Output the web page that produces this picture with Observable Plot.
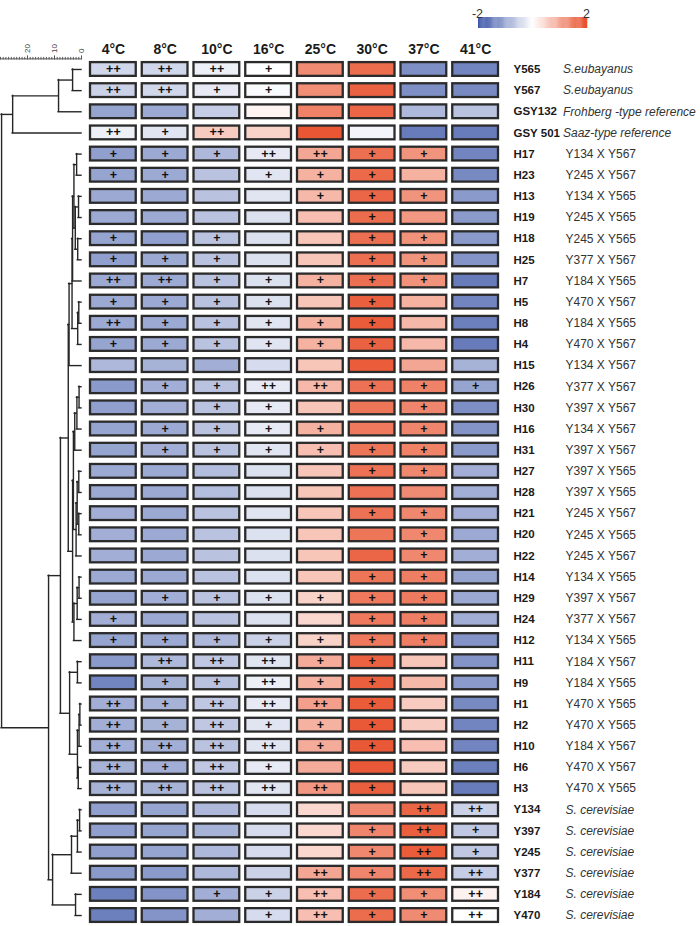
<!DOCTYPE html>
<html><head><meta charset="utf-8">
<script src="https://cdn.jsdelivr.net/npm/d3@7"></script>
<script src="https://cdn.jsdelivr.net/npm/@observablehq/plot@0.6"></script>
<style>
body{margin:0;background:#fff;}
#wrap{position:relative;width:700px;height:926px;font-family:"Liberation Sans",Arial,sans-serif;}
#wrap > div{position:absolute;}
</style></head><body>
<div id="wrap"><div id="heat" style="left:0;top:0"></div><div id="dendro" style="left:0;top:0"></div><div id="legend" style="left:470px;top:0"></div></div>
<script>
const temps = ["4°C","8°C","10°C","16°C","25°C","30°C","37°C","41°C"];
const strains = ["Y565","Y567","GSY132","GSY 501","H17","H23","H13","H19","H18","H25","H7","H5","H8","H4","H15","H26","H30","H16","H31","H27","H28","H21","H20","H22","H14","H29","H24","H12","H11","H9","H1","H2","H10","H6","H3","Y134","Y397","Y245","Y377","Y184","Y470"];
const descr = ["S.eubayanus","S.eubayanus","Frohberg -type reference","Saaz-type reference","Y134 X Y567","Y245 X Y567","Y134 X Y565","Y245 X Y565","Y245 X Y565","Y377 X Y567","Y184 X Y565","Y470 X Y567","Y184 X Y565","Y470 X Y567","Y134 X Y567","Y377 X Y567","Y397 X Y567","Y134 X Y567","Y397 X Y567","Y397 X Y565","Y397 X Y565","Y245 X Y567","Y245 X Y565","Y245 X Y567","Y134 X Y565","Y397 X Y567","Y377 X Y567","Y134 X Y565","Y184 X Y567","Y184 X Y565","Y470 X Y565","Y470 X Y565","Y184 X Y567","Y470 X Y567","Y470 X Y565","S. cerevisiae","S. cerevisiae","S. cerevisiae","S. cerevisiae","S. cerevisiae","S. cerevisiae"];
const descrKind = ["ref","ref","ref","ref", ...Array(31).fill("hyb"), ...Array(6).fill("cer")];

// z-scores per temperature (one value per strain, in row order)
const v4  = [-0.47,-0.53,-1.06,-0.18, -1.12,-1.06,-1.0,-1.0,-1.06,-1.12,-1.0,-1.0,-1.0,-1.06, -0.83,-1.18,-1.12,-1.06,-1.06,-1.0,-1.0,-0.94,-0.94,-0.94,-1.0,-1.06,-0.94,-1.06, -1.18,-1.42,-0.94,-0.94,-0.94,-0.89,-0.89, -1.12,-1.12,-1.12,-1.18,-1.48,-1.48];
const v8  = [-0.47,-0.47,-1.0,-0.3, -1.0,-1.0,-1.0,-1.0,-1.12,-1.0,-1.0,-1.0,-1.0,-1.0, -0.89,-0.94,-0.94,-1.0,-0.94,-1.0,-1.0,-1.0,-1.0,-1.0,-1.0,-0.94,-1.0,-1.0, -0.83,-0.89,-0.89,-0.89,-0.94,-0.94,-0.89, -1.06,-1.06,-1.06,-1.18,-1.24,-1.24];
const v10 = [-0.18,-0.24,-0.59,0.58, -0.83,-0.71,-0.71,-0.71,-0.71,-0.71,-0.71,-0.71,-0.71,-0.71, -0.94,-0.71,-0.71,-0.71,-0.71,-0.77,-0.77,-0.71,-0.71,-0.71,-0.71,-0.71,-0.71,-0.83, -0.65,-0.71,-0.65,-0.65,-0.71,-0.65,-0.71, -0.83,-0.89,-0.83,-0.83,-0.94,-0.94];
const v16 = [0,-0.06,0.12,0.51, -0.24,-0.3,-0.3,-0.35,-0.35,-0.35,-0.35,-0.35,-0.3,-0.3, -0.41,-0.24,-0.24,-0.24,-0.3,-0.35,-0.35,-0.3,-0.35,-0.35,-0.35,-0.35,-0.35,-0.53, -0.3,-0.18,-0.24,-0.3,-0.3,-0.24,-0.3, -0.41,-0.41,-0.41,-0.53,-0.53,-0.41];
const v25 = [1.3,1.27,1.41,1.9, 1.0,0.87,0.8,0.73,0.65,0.65,0.87,0.65,0.87,0.87, 0.65,0.8,0.65,0.87,0.73,0.65,0.65,0.65,0.65,0.65,0.65,0.51,0.44,0.51, 0.94,0.87,1.08,0.87,0.94,0.94,1.16, 0.44,0.44,0.44,1.0,0.73,0.73];
const v30 = [1.65,1.76,1.72,-0.12, 1.62,1.69,1.72,1.65,1.62,1.62,1.62,1.79,1.83,1.76, 1.83,1.58,1.55,1.51,1.55,1.58,1.58,1.58,1.55,1.72,1.55,1.51,1.51,1.51, 1.76,1.79,1.83,1.86,1.86,1.86,1.79, 1.34,1.37,1.34,1.37,1.65,1.65];
const v37 = [-1.3,-1.3,-0.83,-1.53, 1.2,0.87,1.2,1.16,1.23,1.2,1.23,0.87,0.8,0.8, 1.0,1.41,1.37,1.37,1.41,1.34,1.3,1.34,1.34,1.34,1.44,1.48,1.44,1.44, 0.65,0.8,0.58,0.58,0.73,0.58,0.65, 1.72,1.79,1.83,1.69,1.27,1.3];
const v41 = [-1.42,-1.36,-0.71,-1.53, -1.42,-1.36,-1.18,-1.18,-1.18,-1.24,-1.53,-1.42,-1.48,-1.53, -0.89,-1.06,-1.3,-1.24,-1.18,-0.94,-0.94,-0.94,-1.0,-0.94,-1.06,-1.0,-0.94,-1.24, -1.24,-1.18,-1.36,-1.42,-1.42,-1.48,-1.53, -0.53,-0.65,-0.65,-0.59,0.15,0.0];

// significance marks: 0 none, 1 "+", 2 "++"
const m4  = [2,2,0,2, 1,1,0,0,1,1,2,1,2,1, 0,0,0,0,0,0,0,0,0,0,0,0,1,1, 0,0,2,2,2,2,2, 0,0,0,0,0,0];
const m8  = [2,2,0,1, 1,1,0,0,0,1,2,1,1,1, 0,1,0,1,1,0,0,0,0,0,0,1,0,1, 2,1,1,1,2,1,2, 0,0,0,0,0,0];
const m10 = [2,1,0,2, 1,0,0,0,1,1,1,1,1,1, 0,1,1,1,1,0,0,0,0,0,0,1,0,1, 2,1,2,2,2,2,2, 0,0,0,0,1,0];
const m16 = [1,1,0,0, 2,1,0,0,0,0,1,1,1,1, 0,2,1,1,1,0,0,0,0,0,0,1,0,1, 2,2,2,1,2,1,2, 0,0,0,0,1,1];
const m25 = [0,0,0,0, 2,1,1,0,0,0,1,0,1,1, 0,2,0,1,1,0,0,0,0,0,0,1,0,1, 1,1,2,1,1,0,2, 0,0,0,2,2,2];
const m30 = [0,0,0,0, 1,1,1,1,1,1,1,1,1,1, 0,1,0,0,1,1,0,1,0,0,1,1,1,1, 1,1,1,1,1,0,1, 0,1,1,1,1,1];
const m37 = [0,0,0,0, 1,0,1,0,1,1,1,0,0,0, 0,1,1,1,1,1,0,1,1,1,1,1,1,1, 0,0,0,0,0,0,0, 2,2,2,2,1,1];
const m41 = [0,0,0,0, 0,0,0,0,0,0,0,0,0,0, 0,1,0,0,0,0,0,0,0,0,0,0,0,0, 0,0,0,0,0,0,0, 2,1,1,2,2,2];

// dendrogram merges: [node, childA, childB, height]
const merges = [
 ["t1","Y565","Y567",3.3],["t2","t1","GSY132",8.5],["t3","t2","GSY 501",25.5],
 ["h1","H17","H23",1.8],["h2","H13","H19",1.1],["h3","H18","H25",1.4],["h4","h2","h3",2.3],
 ["h5","h1","h4",2.8],["h6","h5","H7",3.3],["h7","H5","H8",1.0],["h8","h7","H4",1.4],
 ["h9","h6","h8",3.5],["a1","h9","H15",4.6],
 ["g1","H26","H30",0.9],["g2","g1","H16",1.7],["g3","g2","H31",2.5],["g4","H27","H28",1.0],
 ["g5","H21","H20",1.0],["g6","g4","g5",1.6],["g7","g6","H22",2.0],["g8","g3","g7",3.0],
 ["g9","H14","H29",0.9],["g10","g9","H24",1.6],["g11","g10","H12",2.8],["a2","g8","g11",3.3],
 ["A","a1","a2",4.9],
 ["b1","H11","H9",1.5],["b2","H1","H2",0.6],["b3","b2","H10",0.9],["b4","H6","H3",1.2],["b5","b3","b4",1.5],
 ["B","b1","b5",4.4],["U","A","B",7.8],
 ["y1","Y134","Y397",0.7],["y2","y1","Y245",1.5],["y3","y2","Y377",3.7],["y5","Y184","Y470",2.2],["y4","y3","y5",10.7],
 ["M","U","y4",12.2],["root","t3","M",29.6]
];
const rulerLabels = [0,10,20];
const legendLabels = [-2,2];

const FONT = '"Liberation Sans", Arial, Helvetica, sans-serif';
const W = 700, H = 926;
const MT = 58.4, MB = 0.4;
const colorScale = {type:"linear", domain:[-2,0,2], range:["#3953a6","#ffffff","#e84d28"], clamp:true};

const vals = [v4,v8,v10,v16,v25,v30,v37,v41];
const sig = [m4,m8,m10,m16,m25,m30,m37,m41];
const cells = [];
strains.forEach((s,i)=>temps.forEach((t,j)=>cells.push({strain:s,temp:t,value:vals[j][i],mark:["","+","++"][sig[j][i]]})));
const rows = strains.map((s,i)=>({strain:s, descr:descr[i], kind:descrKind[i]}));

const heat = Plot.plot({
  width: W, height: H,
  marginLeft: 87, marginRight: 199, marginTop: MT, marginBottom: MB,
  style: {fontFamily: FONT, background: "transparent", overflow: "visible"},
  x: {type:"band", domain: temps, padding: 0, round: false, axis: null},
  y: {type:"band", domain: strains, padding: 0, round: false, axis: null},
  color: colorScale,
  marks: [
    Plot.cell(cells, {x:"temp", y:"strain", fill:"value", stroke:"#2b2b2b", strokeWidth:2.3,
      insetLeft:3, insetRight:3, insetTop:3.7, insetBottom:3.7}),
    Plot.text(cells.filter(d=>d.mark), {x:"temp", y:"strain", text:"mark", fontWeight:"bold", fontSize:12.5, fill:"#111", dy:-0.5}),
    Plot.text(temps, {x:d=>d, frameAnchor:"top", dy:-9.5, lineAnchor:"middle", fontWeight:"bold", fontSize:14, fill:"#1a1a1a"}),
    Plot.text(rows, {y:"strain", text:"strain", frameAnchor:"right", textAnchor:"start", dx:12, fontWeight:"bold", fontSize:11.5, fill:"#1a1a1a"}),
    Plot.text(rows.filter(d=>d.kind==="ref"), {y:"strain", text:"descr", frameAnchor:"right", textAnchor:"start", dx:61.5, fontStyle:"italic", fontSize:12, fill:"#333"}),
    Plot.text(rows.filter(d=>d.kind==="hyb"), {y:"strain", text:"descr", frameAnchor:"right", textAnchor:"start", dx:64, fontSize:12, fill:"#333"}),
    Plot.text(rows.filter(d=>d.kind==="cer"), {y:"strain", text:"descr", frameAnchor:"right", textAnchor:"start", dx:64, fontStyle:"italic", fontSize:12, fill:"#333"})
  ]
});
document.getElementById("heat").appendChild(heat);

// dendrogram layout from merges
const pos = new Map(strains.map((s,i)=>[s,{y:i,h:0}]));
const vSegs = [], hSegs = [];
for (const [id,a,b,h] of merges) {
  const A = pos.get(a), B = pos.get(b);
  vSegs.push({x:h, y1:A.y, y2:B.y});
  hSegs.push({y:A.y, x1:A.h, x2:h}, {y:B.y, x1:B.h, x2:h});
  pos.set(id, {y:(A.y+B.y)/2, h});
}
const dendro = Plot.plot({
  width: 90, height: H,
  marginLeft: 0, marginRight: 9, marginTop: MT, marginBottom: MB,
  style: {fontFamily: FONT, background: "transparent", overflow: "visible"},
  x: {domain:[30,0], range:[0,81], axis: null},
  y: {domain:[-0.5, strains.length-0.5], range:[MT, H-MB], axis: null},
  marks: [
    Plot.ruleY(hSegs, {y:"y", x1:"x1", x2:"x2", stroke:"#262626", strokeWidth:1.4, strokeLinecap:"square"}),
    Plot.ruleX(vSegs, {x:"x", y1:"y1", y2:"y2", stroke:"#262626", strokeWidth:1.4, strokeLinecap:"square"}),
    Plot.ruleY([-0.5], {x1:30, x2:0, stroke:"#555", strokeWidth:1}),
    Plot.axisX({anchor:"top", ticks: d3.range(0,31), tickSize:2.5, tickFormat:()=> "", stroke:"#555", label:null}),
    Plot.axisX({anchor:"top", ticks: rulerLabels, tickSize:4, tickFormat:()=> "", stroke:"#555", label:null}),
    Plot.text(rulerLabels, {x:d=>d, frameAnchor:"top", dy:-6, rotate:-90, textAnchor:"start", lineAnchor:"middle", fontSize:8, fill:"#444"})
  ]
});
document.getElementById("dendro").appendChild(dendro);

// legend
const step = 0.04;
const ramp = d3.range(-2, 2, step);
const legend = Plot.plot({
  width: 125, height: 32,
  marginLeft: 8, marginRight: 8, marginTop: 17, marginBottom: 4,
  style: {fontFamily: FONT, background: "transparent", overflow: "visible"},
  x: {domain:[-2,2], axis:null},
  color: colorScale,
  marks: [
    Plot.barX(ramp, {x1:d=>d, x2:d=>d+step+0.01, fill:d=>d+step/2}),
    Plot.text(legendLabels, {x:d=>d, frameAnchor:"top", dy:-8, text:d=>String(d), fontSize:12.5, fill:"#333", dx:-1})
  ]
});
document.getElementById("legend").appendChild(legend);
</script>
</body></html>
